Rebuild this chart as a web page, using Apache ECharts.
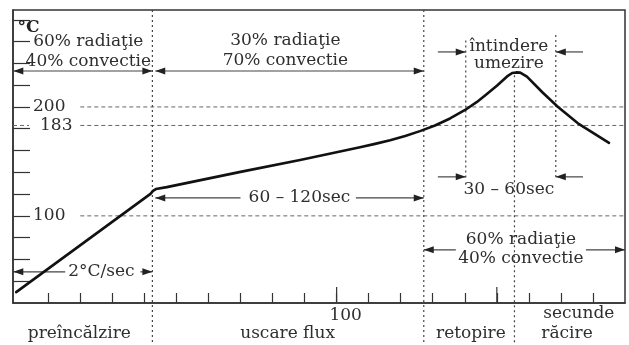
<!DOCTYPE html>
<html><head><meta charset="utf-8">
<script src="https://cdn.jsdelivr.net/npm/echarts@6/dist/echarts.min.js"></script>
<style>html,body{margin:0;padding:0;background:#fff}#c{width:629px;height:345px}</style>
</head><body><div id="c"></div>
<script>
// ---- data: reflow temperature profile (time in s, temperature in °C) ----
const times = [0, 41.9, 42.7, 43.6, 47, 70, 88.6, 107.3, 112, 116.7, 121.4, 126, 130.7, 135.4, 140.1, 143.8, 146.9, 150.1, 153.2, 154.8, 156, 157.3, 159.4, 164.2, 169.1, 175.3, 185];
const temps = [30, 120.2, 122.9, 124.6, 126.4, 140.4, 151.3, 163, 166.1, 169.5, 173.4, 177.8, 183, 189.4, 197.2, 204.6, 211.9, 219.7, 228, 231.2, 231.7, 231.5, 227.8, 213.5, 200, 185, 167];

const xTickVals = [10, 20, 30, 40, 50, 60, 70, 80, 90, 100, 110, 120, 130, 140, 150, 160, 170, 180];
const xMajorTicks = [100, 150];
const xLabelVals = [100];
const yTickVals = [40, 60, 80, 100, 120, 140, 160, 180, 200, 220, 240, 260, 280];
const yLabelVals = [100, 183, 200];

// reference levels: [temperature, from time, to time]
const hLines = [[200, 20, 190], [183, -1, 4], [183, 20, 190], [100, 20, 190]];
// phase boundaries: [time, from temp, to temp]
const vLines = [[42.5, 289, -18], [127.2, 289, -18], [155.5, 229, -18], [140.3, 261, 133], [168.4, 266, 133]];
// arrows: [temp, from time, to time, head at start]
const arrows = [
  [233, 42.5, -0.9, true], [233, 43.4, 127.2, true],
  [250.5, 131.6, 140.3, false], [250.5, 176.9, 168.4, false],
  [135.8, 131.6, 140.3, false], [135.8, 176.9, 168.4, false],
  [116.5, 70, 43.4, false], [116.5, 106, 127.2, false],
  [48.6, 15.3, -0.9, false], [48.6, 38.75, 42.5, false],
  [68.8, 137.2, 127.2, false], [68.8, 177.8, 190, false]
];
// texts: [text, time, temp]
const labels = [
  ['60% radiaţie', 22.5, 259.6], ['40% convectie', 22.5, 241.3],
  ['30% radiaţie', 84, 260.5], ['70% convectie', 84, 242.2],
  ['întindere', 153.75, 255], ['umezire', 153.75, 239.4],
  ['30 – 60sec', 153.75, 123.9], ['60 – 120sec', 88.4, 116.5],
  ['2°C/sec', 26.6, 48.6],
  ['60% radiaţie', 157.5, 78], ['40% convectie', 157.5, 60.6],
  ['secunde', 175.6, 10.1],
  ['preîncălzire', 19.7, -8.3], ['uscare flux', 84.7, -8.3], ['retopire', 141.9, -8.3], ['răcire', 171.9, -8.3]
];
const unitLabel = ['°C', 0.4, 273];

const xMin = -1, xMax = 190, yMin = 20, yMax = 289;
const FONT = 'DejaVu Serif';
const TXT = '#2e2e2e';

const chart = echarts.init(document.getElementById('c'));

chart.setOption({
  animation: false,
  backgroundColor: '#fff',
  grid: {left: 13, right: 4, top: 10, bottom: 42, show: true, borderColor: '#333', borderWidth: 1.5},
  xAxis: {
    type: 'value', min: xMin, max: xMax,
    axisLine: {show: true, onZero: false, lineStyle: {color: '#333', width: 1.5}},
    axisTick: {show: true, inside: true, length: 10, customValues: xTickVals, lineStyle: {color: '#333', width: 1.2}},
    axisLabel: {show: true, customValues: xLabelVals, color: TXT, fontFamily: FONT, fontSize: 17, margin: 4, padding: [0, 0, 0, 18]},
    splitLine: {show: false}
  },
  yAxis: {
    type: 'value', min: yMin, max: yMax,
    axisLine: {show: true, onZero: false, lineStyle: {color: '#333', width: 1.5}},
    axisTick: {show: true, inside: true, length: 17, customValues: yTickVals, lineStyle: {color: '#333', width: 1.2}},
    axisLabel: {
      show: true, inside: true, margin: 20, customValues: yLabelVals, color: TXT, fontFamily: FONT, fontSize: 17,
      formatter: v => v === 183 ? '{o|183}' : String(v),
      rich: {o: {padding: [0, 0, 0, 7], color: TXT, fontFamily: FONT, fontSize: 17}}
    },
    splitLine: {show: false}
  },
  series: [{
    type: 'line', data: times.map((t, i) => [t, temps[i]]), symbol: 'none',
    smooth: false, clip: false,
    lineStyle: {color: '#111', width: 2.6, join: 'round', cap: 'round'}, z: 5
  }]
});

const P = (t, T) => chart.convertToPixel({xAxisIndex: 0, yAxisIndex: 0}, [t, T]);
const els = [];
hLines.forEach(([T, a, b]) => {
  const p1 = P(a, T), p2 = P(b, T);
  els.push({type: 'line', shape: {x1: p1[0], y1: p1[1], x2: p2[0], y2: p2[1]}, style: {stroke: '#666', lineWidth: 1, lineDash: [4, 3]}, z: 1});
});
vLines.forEach(([t, a, b]) => {
  const p1 = P(t, a), p2 = P(t, b);
  els.push({type: 'line', shape: {x1: p1[0], y1: p1[1], x2: p2[0], y2: p2[1]}, style: {stroke: '#444', lineWidth: 1.2, lineDash: [2, 3]}, z: 1});
});
xMajorTicks.forEach(t => {
  const p = P(t, yMin);
  els.push({type: 'line', shape: {x1: p[0], y1: p[1], x2: p[0], y2: p[1] - 16}, style: {stroke: '#333', lineWidth: 1.2}, z: 2});
});
function head(x, y, dir) {
  return {type: 'polygon', shape: {points: [[x, y], [x - dir * 10, y - 3.5], [x - dir * 10, y + 3.5]]}, style: {fill: '#222'}, z: 3};
}
arrows.forEach(([T, a, b, both]) => {
  const p1 = P(a, T), p2 = P(b, T);
  els.push({type: 'line', shape: {x1: p1[0], y1: p1[1], x2: p2[0], y2: p2[1]}, style: {stroke: '#444', lineWidth: 1.2}, z: 3});
  const dir = p2[0] > p1[0] ? 1 : -1;
  els.push(head(p2[0], p2[1], dir));
  if (both) els.push(head(p1[0], p1[1], -dir));
});
labels.forEach(([s, t, T]) => {
  const p = P(t, T);
  els.push({type: 'text', x: p[0], y: p[1], style: {text: s, font: '17px "DejaVu Serif"', fill: TXT, align: 'center', verticalAlign: 'middle', textAlign: 'center', textVerticalAlign: 'middle'}, z: 4});
});
{
  const p = P(unitLabel[1], unitLabel[2]);
  els.push({type: 'text', x: p[0], y: p[1], style: {text: unitLabel[0], font: 'bold 17px "DejaVu Serif"', fill: '#222', align: 'left', verticalAlign: 'middle', textAlign: 'left', textVerticalAlign: 'middle'}, z: 4});
}
chart.setOption({graphic: {elements: els}});
</script>
</body></html>
